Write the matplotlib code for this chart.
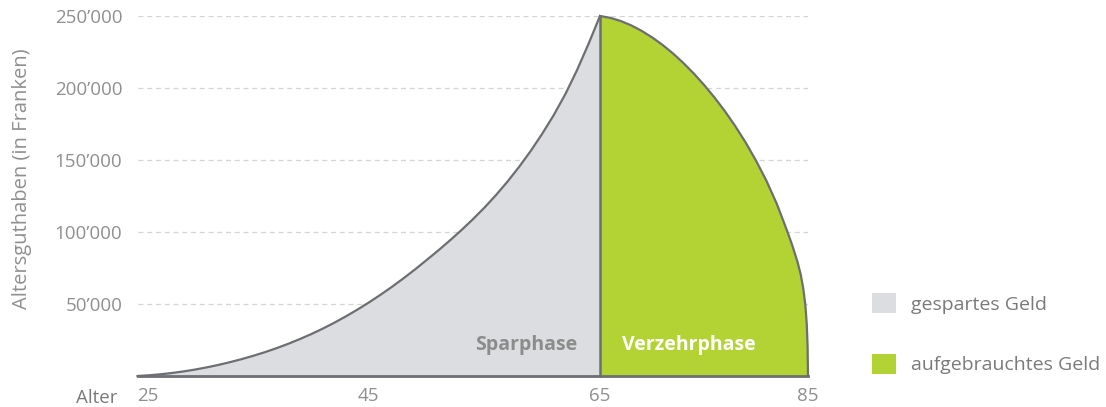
import numpy as np
import matplotlib
matplotlib.use("Agg")
import matplotlib.pyplot as plt
from matplotlib.patches import Patch

# ---- data (values in Franken) ----
ages_spar = [25, 26, 27, 28, 29, 30, 31, 32, 33, 34, 35, 36, 37, 38, 39, 40, 41, 42, 43, 44,
             45, 46, 47, 48, 49, 50, 51, 52, 53, 54, 55, 56, 57, 58, 59, 60, 61, 62, 63, 64, 65]
guthaben_spar = [0, 500, 1200, 2100, 3200, 4500, 6000, 7700, 9600, 11700, 14000, 16500, 19250,
                 22250, 25500, 29000, 32800, 36900, 41300, 46000, 51000, 56300, 61900, 67800,
                 74000, 80500, 87100, 94000, 101200, 108800, 116900, 125600, 135000, 145200,
                 156200, 168200, 181200, 195700, 212200, 230500, 250000]
ages_verzehr = [65, 66, 67, 68, 69, 70, 71, 72, 73, 74, 75, 76, 77, 78, 79, 80, 81, 82, 83,
                83.5, 84, 84.3, 84.55, 84.75, 84.88, 84.96, 85]
guthaben_verzehr = [250000, 248700, 246500, 243500, 239700, 235200, 230000, 224100, 217500,
                    210200, 202200, 193500, 184000, 173600, 162200, 149600, 135600, 119600,
                    100600, 90500, 79000, 70500, 60500, 49000, 36000, 21000, 0]
x_ticks = [25, 45, 65, 85]
y_ticks = [50000, 100000, 150000, 200000, 250000]
y_tick_labels = ["50\u2019000", "100\u2019000", "150\u2019000", "200\u2019000", "250\u2019000"]
legend_labels = ["gespartes Geld", "aufgebrauchtes Geld"]
phase_labels = ["Sparphase", "Verzehrphase"]
x_label = "Alter"
y_label = "Altersguthaben (in Franken)"

# ---- style ----
GRAY_FILL = "#dcdde0"
GREEN = "#b3d334"
LINE = "#6d6e71"
FONT = "Open Sans"
plt.rcParams["font.family"] = [FONT, "DejaVu Sans"]

W, H = 1106, 407
fig = plt.figure(figsize=(W / 100, H / 100), dpi=100)
ax = fig.add_axes([137.5 / W, 31 / H, 670.5 / W, 360 / H])

# piecewise-linear x scale (the reference uses different spacing per phase)
def fwd(x):
    x = np.asarray(x, dtype=float)
    return np.where(x <= 65, (x - 25) * 462.5 / 40, 462.5 + (x - 65) * 10.4)

def inv(p):
    p = np.asarray(p, dtype=float)
    return np.where(p <= 462.5, 25 + p * 40 / 462.5, 65 + (p - 462.5) / 10.4)

ax.set_xscale("function", functions=(fwd, inv))
ax.set_xlim(25, 85)
ax.set_ylim(0, 250000)

# grid
for yv in y_ticks:
    ax.axhline(yv, color="#d4d4d4", lw=0.9, ls=(0, (4, 3)), zorder=0)

# areas
ax.fill_between(ages_spar, guthaben_spar, 0, color=GRAY_FILL, lw=0, zorder=1)
ax.fill_between(ages_verzehr, guthaben_verzehr, 0, color=GREEN, lw=0, zorder=1)
ax.plot(ages_spar, guthaben_spar, color=LINE, lw=1.6, zorder=3, clip_on=False,
        solid_joinstyle="round")
ax.plot(ages_verzehr, guthaben_verzehr, color=LINE, lw=1.6, zorder=3, clip_on=False,
        solid_joinstyle="round")
ax.plot([65, 65], [0, 250000], color=LINE, lw=1.8, zorder=3, clip_on=False)
ax.plot([25, 85], [0, 0], color=LINE, lw=2.0, zorder=3, clip_on=False)

# phase labels
ax.text(63.0, 21500, phase_labels[0], ha="right", va="center", fontsize=14,
        fontweight="bold", color="#8c8c8c", zorder=4)
ax.text(67.1, 21500, phase_labels[1], ha="left", va="center", fontsize=14,
        fontweight="bold", color="white", zorder=4)

# axes decoration
for s in ax.spines.values():
    s.set_visible(False)
ax.set_xticks(x_ticks)
ax.set_xticklabels([str(v) for v in x_ticks])
ax.set_yticks(y_ticks)
ax.set_yticklabels(y_tick_labels)
ax.tick_params(axis="both", length=0, labelsize=13.5, labelcolor="#8f8f8f")
ax.tick_params(axis="y", pad=11)
ax.tick_params(axis="x", pad=8)
ax.get_xticklabels()[0].set_horizontalalignment("left")

fig.text(118 / W, 1 - 398 / H, x_label, ha="right", va="center", fontsize=13.5,
         color="#7a7a7a")
fig.text(22 / W, 1 - 179 / H, y_label, ha="center", va="center", rotation=90,
         fontsize=14.5, color="#8f8f8f")

# legend
handles = [Patch(facecolor=GRAY_FILL, edgecolor="none"),
           Patch(facecolor=GREEN, edgecolor="none")]
fs = 14
fig.legend(handles, legend_labels, loc="upper left",
           bbox_to_anchor=(872 / W, 1 - 293 / H), frameon=False, borderpad=0,
           borderaxespad=0, fontsize=fs, labelcolor="#7a7a7a",
           handlelength=24 / (fs * 100 / 72), handleheight=24 / (fs * 100 / 72),
           handletextpad=0.75, labelspacing=2.05)

fig.savefig("out.png", dpi=100)
